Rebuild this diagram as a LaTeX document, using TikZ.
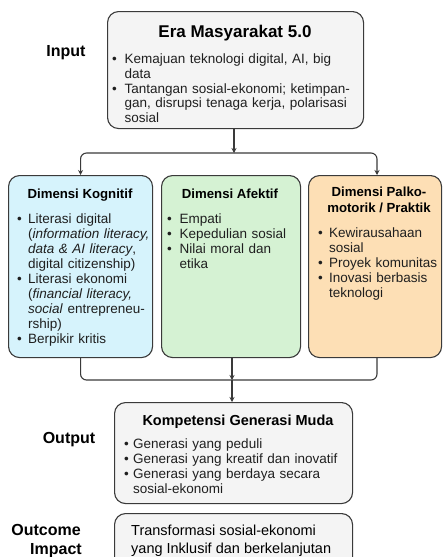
\documentclass[tikz,border=0pt]{standalone}
\usepackage{fontspec}
\setmainfont{Liberation Sans}
\usetikzlibrary{arrows.meta}
\definecolor{boxgray}{HTML}{F4F4F4}
\definecolor{boxblue}{HTML}{D6F3FC}
\definecolor{boxgreen}{HTML}{D5F2D3}
\definecolor{boxorange}{HTML}{FDDFB5}
\definecolor{edgecol}{HTML}{3A3A3A}
\newlength{\bind}
\setlength{\bind}{11pt}
\newcommand{\bli}[1]{\par\hangindent=\bind\hangafter=1\noindent\makebox[\bind][l]{•}#1\par}
\tikzset{
  box/.style={draw=edgecol, line width=1.1pt, rounded corners=11pt, anchor=north west, inner sep=0pt},
  lst/.style={anchor=north west, inner sep=0pt, text width=#1, font=\fontsize{13.5}{15}\selectfont\raggedright, text=black!88},
  lst/.default=250pt,
  hdr/.style={anchor=base, inner sep=0pt, align=center, font=\fontsize{13.2}{16}\selectfont\bfseries},
  lbl/.style={anchor=base, inner sep=0pt, font=\fontsize{16}{18}\selectfont\bfseries},
  conn/.style={draw=edgecol, line width=1.1pt, rounded corners=6pt},
  arr/.style={conn, -{Stealth[length=5pt,width=5pt]}}
}
\begin{document}
\begin{tikzpicture}[x=1pt,y=-1pt]
\useasboundingbox (0,0) rectangle (443,557);
\clip (0,0) rectangle (443,557);
% boxes
\node[box, fill=boxgray, minimum width=256pt, minimum height=117pt] (top) at (107,11) {};
\node[box, fill=boxblue, minimum width=144pt, minimum height=182pt] (kog) at (8,175) {};
\node[box, fill=boxgreen, minimum width=139pt, minimum height=182pt] (afe) at (161,175) {};
\node[box, fill=boxorange, minimum width=133pt, minimum height=182pt] (pra) at (308,175) {};
\node[box, fill=boxgray, minimum width=238pt, minimum height=101pt] (out) at (114,402) {};
\node[box, fill=boxgray, minimum width=238pt, minimum height=62pt] (imp) at (114,513) {};
% labels
\node[lbl] (linput) at (66,56) {Input};
\node[lbl] (loutput) at (69,443) {Output};
\node[lbl] (loutcome) at (46,535) {Outcome};
\node[lbl] (limpact) at (56,554) {Impact};
% top
\node[hdr, font=\fontsize{17}{20}\selectfont\bfseries] (toptitle) at (235,37) {Era Masyarakat 5.0};
\node[lst, font=\fontsize{13.5}{14.8}\selectfont\raggedright\setlength{\bind}{12.5pt}] (toplist) at (112,48.5) {\bli{Kemajuan teknologi digital, AI, big\newline data}\bli{Tantangan sosial-ekonomi; ketimpan-\newline gan, disrupsi tenaga kerja, polarisasi\newline sosial}};
% kognitif
\node[hdr] (kogtitle) at (80,198) {Dimensi Kognitif};
\node[lst=138pt] (koglist) at (17,208) {\bli{Literasi digital\newline(\textit{information literacy,}\newline\textit{data \& AI literacy},\newline digital citizenship)}\bli{Literasi ekonomi\newline(\textit{financial literacy,}\newline\textit{social} entrepreneu-\newline rship)}\bli{Berpikir kritis}};
% afektif
\node[hdr] (afetitle) at (230,198) {Dimensi Afektif};
\node[lst=132pt, font=\fontsize{13.5}{15}\selectfont\raggedright\setlength{\bind}{12.5pt}] (afelist) at (167,208) {\bli{Empati}\bli{Kepedulian sosial}\bli{Nilai moral dan\newline etika}};
% praktik
\node[hdr, anchor=north] (pratitle) at (379,187) {Dimensi Palko-\\motorik / Praktik};
\node[lst=125pt] (pralist) at (318,222) {\bli{Kewirausahaan\newline sosial}\bli{Proyek komunitas}\bli{Inovasi berbasis\newline teknologi}};
% output
\node[hdr, font=\fontsize{14.5}{17}\selectfont\bfseries] (outtitle) at (238,425) {Kompetensi Generasi Muda};
\node[lst=228pt, font=\fontsize{13.5}{15}\selectfont\raggedright\setlength{\bind}{9pt}] (outlist) at (124,433) {\bli{Generasi yang peduli}\bli{Generasi yang kreatif dan inovatif}\bli{Generasi yang berdaya secara\newline sosial-ekonomi}};
% impact
\node[anchor=north west, inner sep=0pt, align=left, font=\fontsize{14.5}{18}\selectfont] (imptext) at (131,525) {Transformasi sosial-ekonomi\\yang Inklusif dan berkelanjutan};
% connectors
\coordinate (split) at (234,153);
\coordinate (merge) at (232,380);
\draw[arr] (top.south -| split) -- (split);
\draw[arr] (split) -| (kog.north);
\draw[arr] (split) -| (377,175);
\draw[conn] (kog.south) |- (merge);
\draw[conn] (377,357) |- (merge);
\draw[arr] (afe.south -| merge) -- (merge);
\draw[arr] (merge) -- (out.north -| merge);
\end{tikzpicture}
\end{document}
